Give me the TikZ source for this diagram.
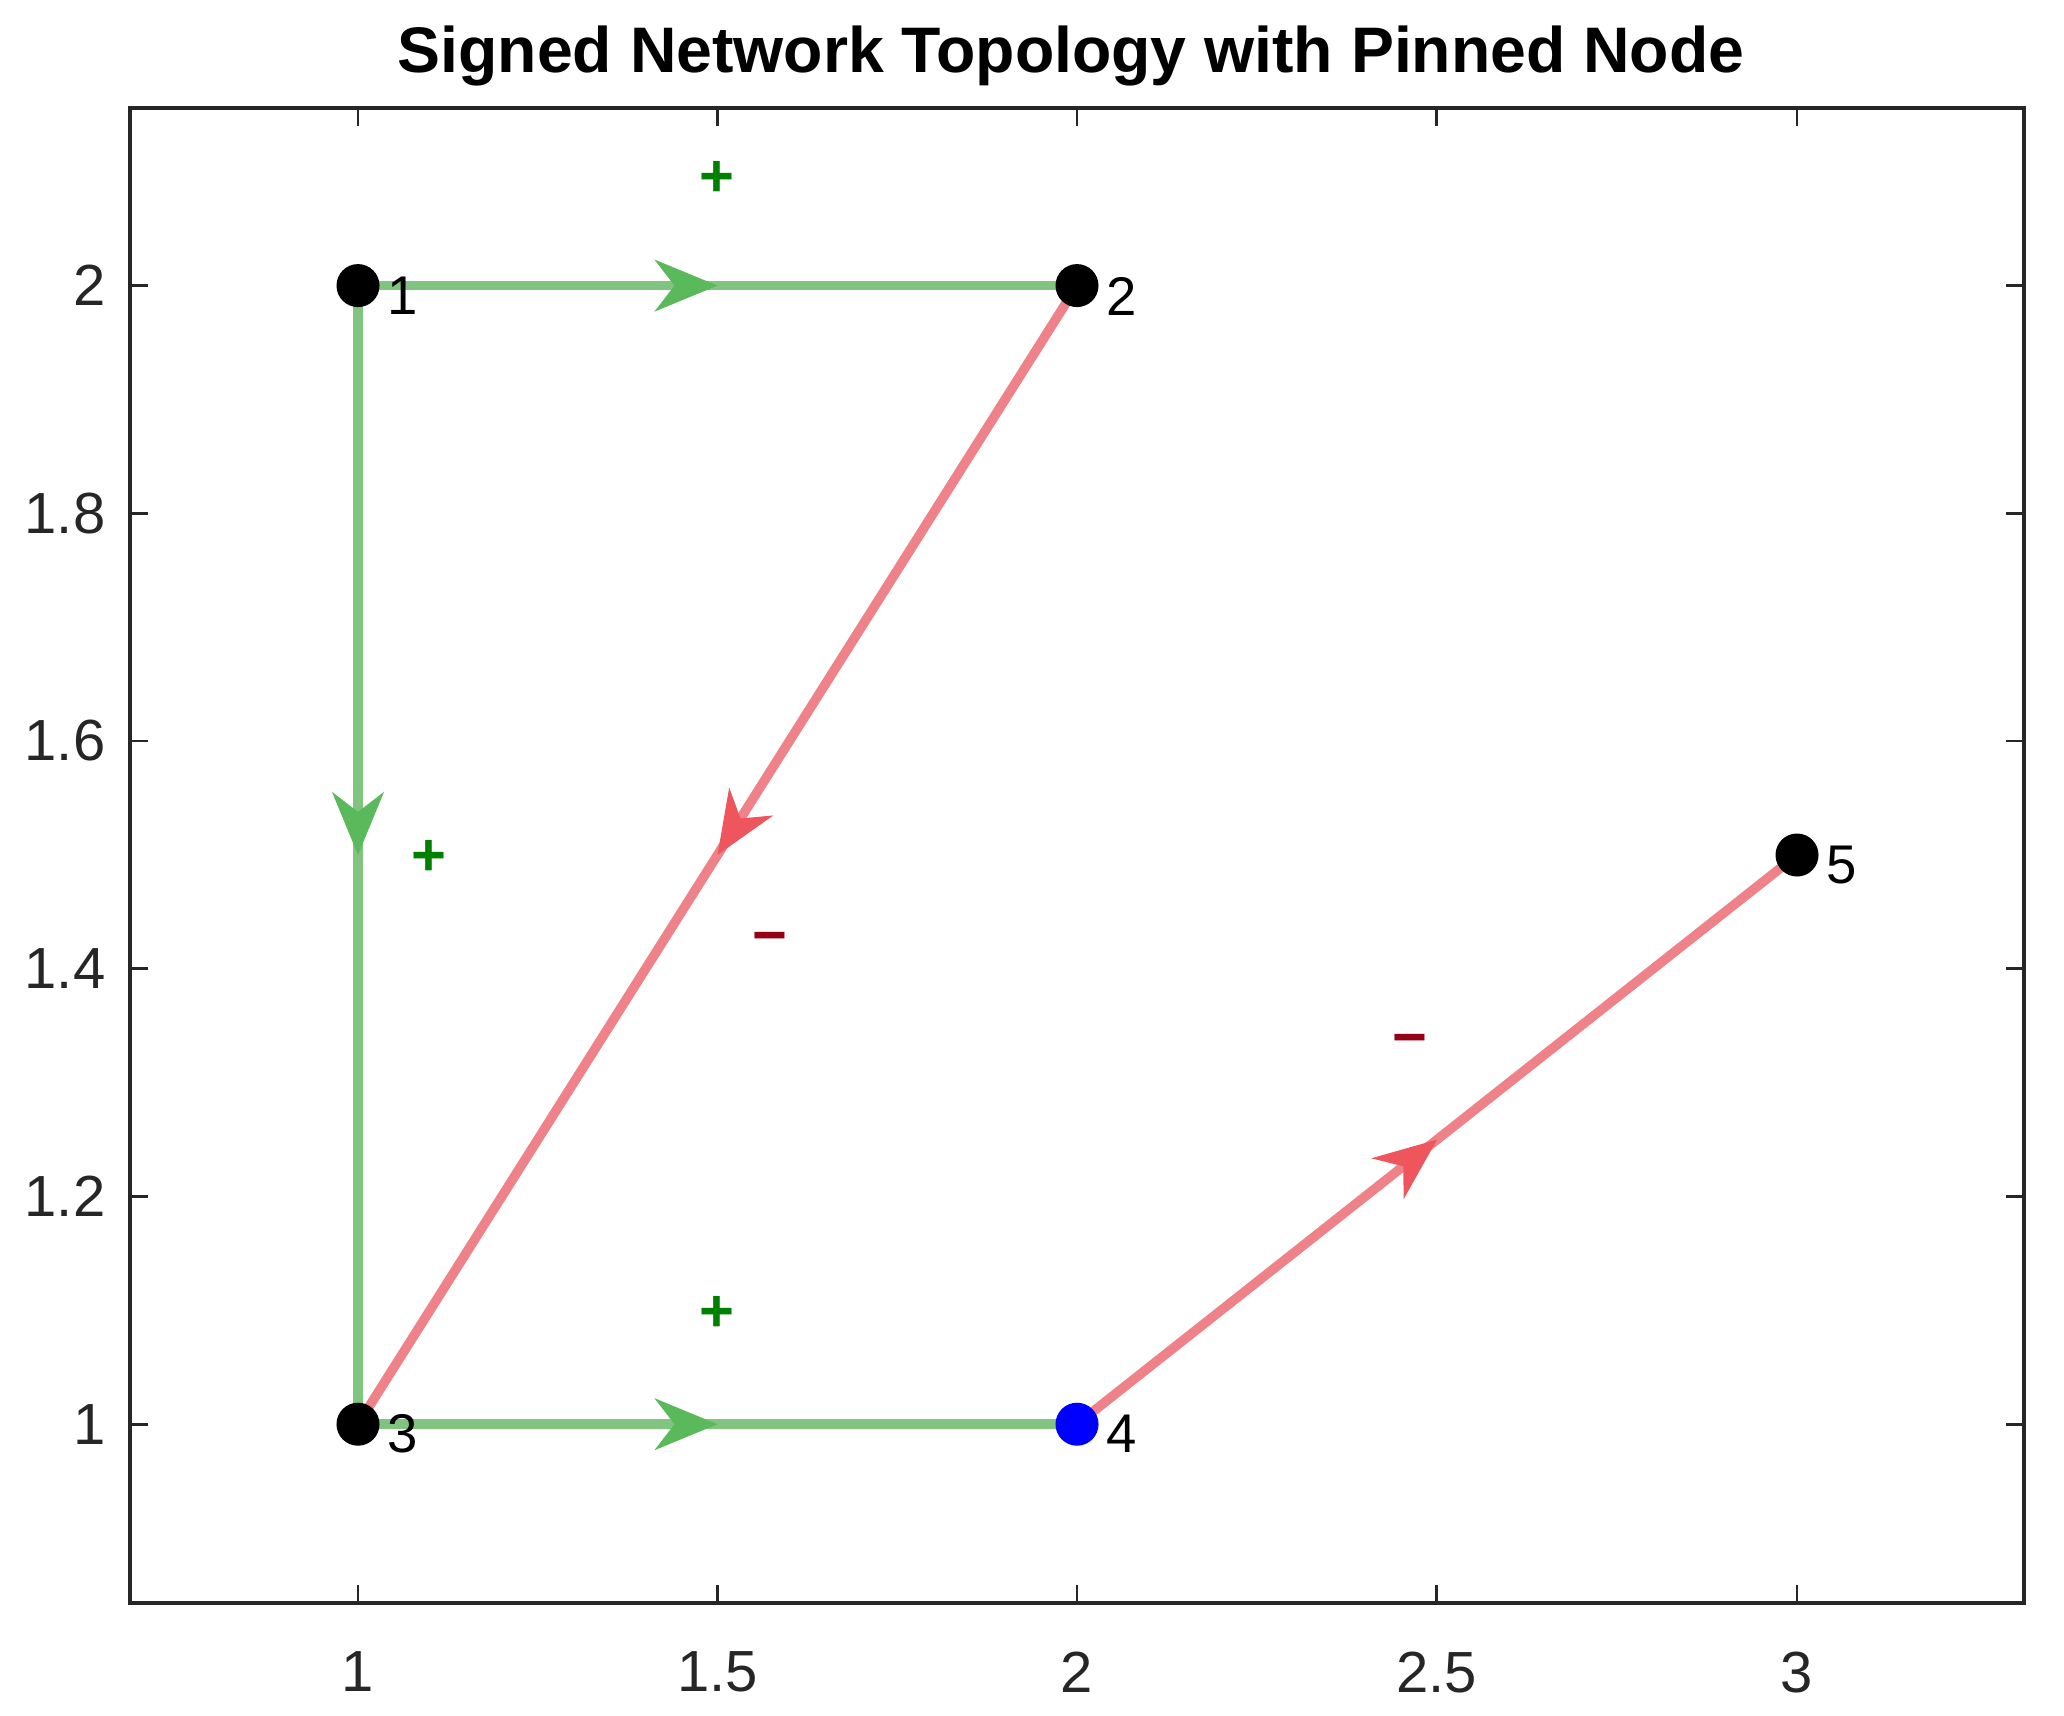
\documentclass[tikz,border=0pt]{standalone}
\usepackage{fontspec}
\setmainfont{Liberation Sans}
\usetikzlibrary{arrows.meta,decorations.markings,backgrounds}
\definecolor{posline}{RGB}{128,196,128}
\definecolor{negline}{RGB}{238,130,136}
\definecolor{poshead}{RGB}{90,185,90}
\definecolor{neghead}{RGB}{238,85,92}
\definecolor{possign}{RGB}{0,128,0}
\definecolor{negsign}{RGB}{150,0,20}
\definecolor{axiscol}{RGB}{38,38,38}
\tikzset{
  vert/.style={circle, fill=black, inner sep=0pt, minimum size=0.43cm},
  pinned/.style={vert, fill=blue},
  vlabel/.style={anchor=west, font=\fontsize{15.5}{18}\selectfont, inner sep=0pt},
  ticklab/.style={font=\fontsize{16.5}{19}\selectfont, inner sep=0pt, text=axiscol},
  signlab/.style={font=\bfseries\fontsize{17}{20}\selectfont, inner sep=0pt},
  posedge/.style={draw=posline, line width=2.7pt, postaction={decorate},
    decoration={markings, mark=at position 0.5 with {\arrow[poshead]{Stealth[length=0.63cm,width=0.52cm,inset=0.2cm,line width=0.4pt]}}}},
  negedge/.style={draw=negline, line width=2.7pt, postaction={decorate},
    decoration={markings, mark=at position 0.5 with {\arrow[neghead]{Stealth[length=0.63cm,width=0.52cm,inset=0.2cm,line width=0.4pt]}}}},
}
\begin{document}
\begin{tikzpicture}[x=0.01cm, y=-0.01cm]
\useasboundingbox (0,0) rectangle (2064,1715);
% title
\node[font=\bfseries\fontsize{18.3}{22}\selectfont, inner sep=0pt] (title) at (1071,56) {Signed Network Topology with Pinned Node};
% axes box
\draw[axiscol, line width=1pt] (130,108) rectangle (2024,1603);
\foreach \x/\l [count=\i] in {358/1, 717.7/1.5, 1077/2, 1436.5/2.5, 1797/3} {
  \draw[axiscol, line width=0.8pt] (\x,1603) -- ++(0,-18);
  \draw[axiscol, line width=0.8pt] (\x,108) -- ++(0,18);
  \node[ticklab] (xt\i) at (\x,1672) {\l};
}
\foreach \y/\l [count=\i] in {1424.2/1, 1196.5/1.2, 968.8/1.4, 741.0/1.6, 513.3/1.8, 285.6/2} {
  \draw[axiscol, line width=0.8pt] (130,\y) -- ++(18,0);
  \draw[axiscol, line width=0.8pt] (2024,\y) -- ++(-18,0);
  \node[ticklab, anchor=east] (yt\i) at (106,\y) {\l};
}
% vertices
\node[vert] (n1) at (358,285.6) {};
\node[vert] (n2) at (1077,285.6) {};
\node[vert] (n3) at (358,1424.2) {};
\node[pinned] (n4) at (1077,1424.2) {};
\node[vert] (n5) at (1797,855) {};
\node[vlabel] (l1) at (387,296) {1};
\node[vlabel] (l2) at (1106,296) {2};
\node[vlabel] (l3) at (387,1434) {3};
\node[vlabel] (l4) at (1106,1434) {4};
\node[vlabel] (l5) at (1826,865) {5};
% edges
\begin{scope}[on background layer]
\fill[white] (0,0) rectangle (2064,1715);
\draw[posedge] (n1.center) -- (n2.center);
\draw[posedge] (n1.center) -- (n3.center);
\draw[negedge] (n2.center) -- (n3.center);
\draw[posedge] (n3.center) -- (n4.center);
\draw[negedge] (n4.center) -- (n5.center);
\end{scope}
% signs
\node[signlab, text=possign] (s12) at (717,179) {+};
\node[signlab, text=possign] (s13) at (429,858) {+};
\node[signlab, text=negsign] (s23) at (770,944) {−};
\node[signlab, text=possign] (s34) at (717,1314) {+};
\node[signlab, text=negsign] (s45) at (1410,1046) {−};
\end{tikzpicture}
\end{document}
